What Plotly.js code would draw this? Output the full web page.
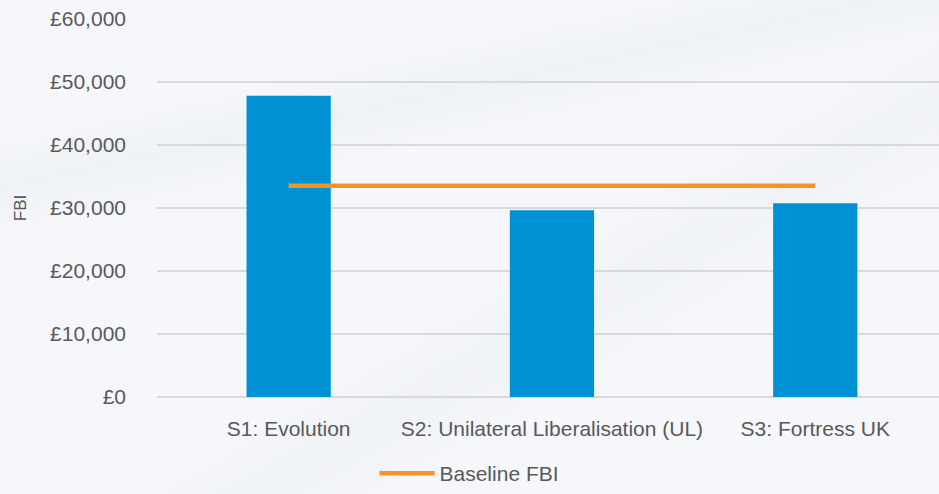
<!DOCTYPE html>
<html>
<head>
<meta charset="utf-8">
<script src="https://cdn.plot.ly/plotly-3.0.1.min.js"></script>
<style>
  html, body { margin: 0; padding: 0; }
  body {
    width: 939px; height: 494px; overflow: hidden;
    background:
      linear-gradient(168deg, rgba(255,255,255,0) 20%, rgba(225,230,236,0.35) 27%, rgba(255,255,255,0) 34%),
      linear-gradient(150deg, rgba(255,255,255,0) 55%, rgba(228,232,238,0.3) 62%, rgba(255,255,255,0) 70%),
      #f5f7fa;
  }
  #chart { width: 939px; height: 494px; }
</style>
</head>
<body>
<div id="chart"></div>
<script>
// Scenario results for farm business income (FBI)
const scenarios = ['S1: Evolution', 'S2: Unilateral Liberalisation (UL)', 'S3: Fortress UK'];
const fbiValues = [47800, 29650, 30750];
const baselineFBI = [33550, 33550, 33550];
const yTicks = [0, 10000, 20000, 30000, 40000, 50000, 60000];
const yTickLabels = ['£0', '£10,000', '£20,000', '£30,000', '£40,000', '£50,000', '£60,000'];

const textColor = '#595959';

const traces = [
  {
    type: 'bar',
    x: scenarios,
    y: fbiValues,
    width: 0.32,
    marker: { color: '#0091d5' },
    showlegend: false,
    hoverinfo: 'x+y'
  },
  {
    type: 'scatter',
    mode: 'lines',
    name: 'Baseline FBI',
    x: scenarios,
    y: baselineFBI,
    line: { color: '#f7941d', width: 4.5 },
    showlegend: true
  }
];

const layout = {
  width: 939,
  height: 494,
  margin: { l: 157, r: 0, t: 19, b: 97 },
  paper_bgcolor: 'rgba(0,0,0,0)',
  plot_bgcolor: 'rgba(0,0,0,0)',
  font: { family: 'Liberation Sans, Arial, sans-serif', size: 21, color: textColor },
  xaxis: {
    type: 'category',
    range: [-0.5, 2.47],
    showgrid: false,
    zeroline: false,
    showline: false,
    ticks: '',
    tickfont: { size: 21, color: textColor },
    ticklabelstandoff: 17
  },
  yaxis: {
    range: [0, 60000],
    tickvals: yTicks,
    ticktext: yTickLabels,
    showgrid: true,
    gridcolor: '#d9d9d9',
    gridwidth: 1.5,
    zeroline: true,
    zerolinecolor: '#d9d9d9',
    zerolinewidth: 1.5,
    showline: false,
    ticks: '',
    tickfont: { size: 21, color: textColor },
    ticklabelstandoff: 30,
    title: { text: 'FBI', font: { size: 17, color: textColor }, standoff: 19 }
  },
  legend: {
    orientation: 'h',
    x: 0.5,
    xref: 'container',
    xanchor: 'center',
    y: -0.014,
    yref: 'container',
    yanchor: 'bottom',
    itemwidth: 55,
    font: { size: 21, color: textColor },
    bgcolor: 'rgba(0,0,0,0)'
  },
  showlegend: true,
  bargap: 0.68
};

Plotly.newPlot('chart', traces, layout, { displayModeBar: false, responsive: false });
</script>
</body>
</html>
